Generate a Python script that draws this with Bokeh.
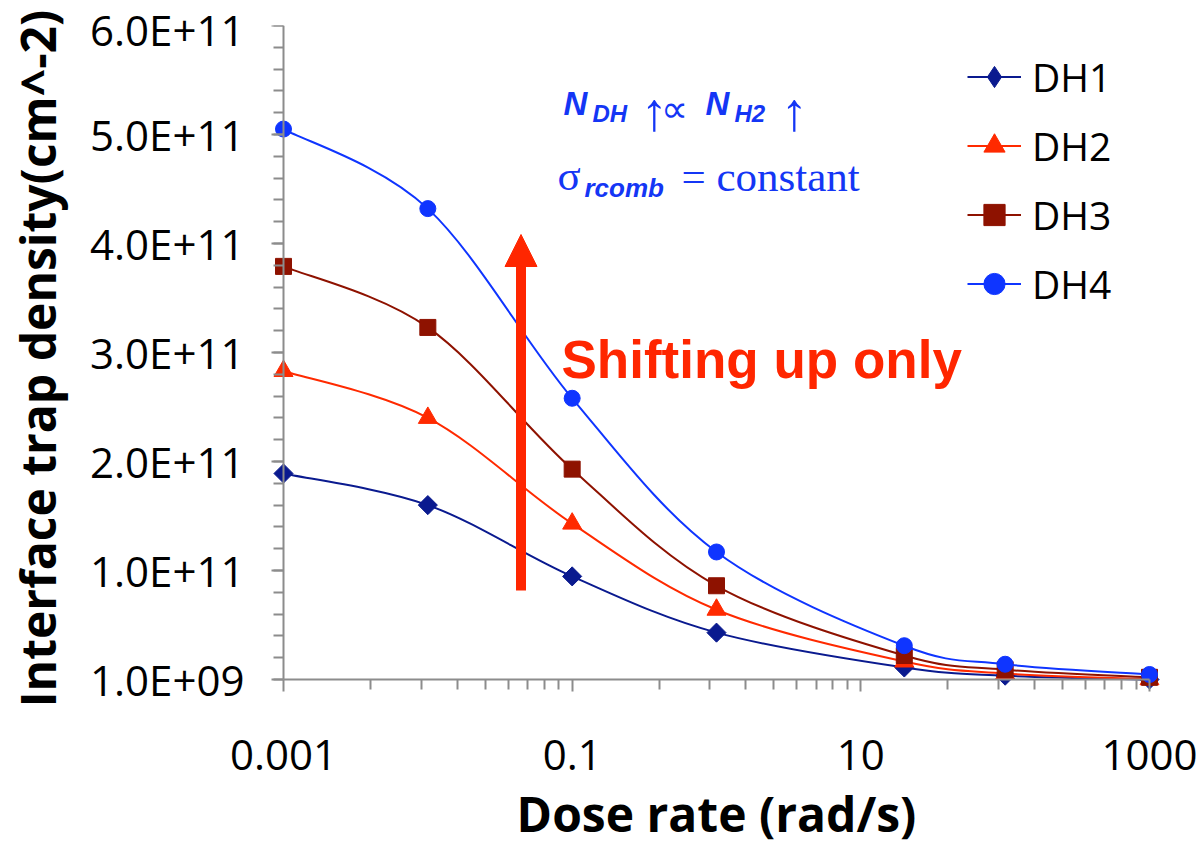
import math
from bokeh.plotting import figure
from bokeh.models import (FixedTicker, CustomJSTickFormatter, Legend, LegendItem, LinearAxis, LogAxis,
                          Arrow, NormalHead, Label, ColumnDataSource, Range1d)
from bokeh.embed import file_html
from bokeh.resources import INLINE

# ---------------- data ----------------
dose_rate = [0.001, 0.01, 0.1, 1, 20, 100, 1000]
dh1 = [1.90e11, 1.61e11, 0.956e11, 0.44e11, 1.2e10, 4.5e9, 1.0e9]
dh2 = [2.84e11, 2.41e11, 1.44e11, 0.65e11, 1.75e10, 6.5e9, 1.2e9]
dh3 = [3.80e11, 3.24e11, 1.94e11, 0.87e11, 2.3e10, 1.0e10, 3.0e9]
dh4 = [5.06e11, 4.33e11, 2.59e11, 1.18e11, 3.2e10, 1.5e10, 5.6e9]

series_names = ["DH1", "DH2", "DH3", "DH4"]
series_values = [dh1, dh2, dh3, dh4]
series_colors = ["#0A1A8F", "#FF2A00", "#8E1200", "#0F35FF"]

x_tick_values = [0.001, 0.1, 10, 1000]
x_tick_labels = ["0.001", "0.1", "10", "1000"]
y_tick_values = [1e9, 1.01e11, 2.01e11, 3.01e11, 4.01e11, 5.01e11, 6.01e11]
y_tick_labels = ["1.0E+09", "1.0E+11", "2.0E+11", "3.0E+11", "4.0E+11", "5.0E+11", "6.0E+11"]

X_MIN, X_MAX = 0.001, 1000
Y_MIN, Y_MAX = 1e9, 6.01e11

PX_DEC = 144.333                 # pixels per decade on x
PX_Y = 654.0 / (Y_MAX - Y_MIN)   # pixels per unit on y
PAD = 12                         # extra room so markers on the axes are not clipped

p = figure(width=1200, height=848, x_axis_type="log",
           x_range=Range1d(X_MIN * 10 ** (-PAD / PX_DEC), X_MAX * 10 ** (PAD / PX_DEC)),
           y_range=Range1d(Y_MIN - PAD / PX_Y, Y_MAX),
           output_backend="svg", toolbar_location=None,
           min_border_left=283 - PAD, min_border_right=51 - PAD,
           min_border_top=25, min_border_bottom=169 - PAD)
p.outline_line_color = None
p.xgrid.visible = False
p.ygrid.visible = False
p.background_fill_color = "white"
p.border_fill_color = "white"

AX = "#8C8C8C"
x_minor = [m * k * k for m in (0.001, 0.1, 10) for k in range(2, 10)]
y_minor = [1e9 + k * 2e10 for k in range(31)]

fmt_code = """
for (let i = 0; i < tvals.length; i++) {
  if (Math.abs(tvals[i] - tick) <= 1e-6 * Math.abs(tvals[i])) { return tlabels[i]; }
}
return "";
"""

# axis lines + ticks, drawn at the data origin (0.001, 1e9)
xa = p.xaxis[0]
ya = p.yaxis[0]
ya.fixed_location = X_MIN
xa.fixed_location = Y_MIN
xa.bounds = (X_MIN, X_MAX)
ya.bounds = (Y_MIN, Y_MAX)
xa.ticker = FixedTicker(ticks=x_tick_values, minor_ticks=x_minor)
ya.ticker = FixedTicker(ticks=y_tick_values, minor_ticks=y_minor)
for ax in (xa, ya):
    ax.axis_line_color = AX
    ax.axis_line_width = 2
    ax.major_tick_line_color = AX
    ax.major_tick_line_width = 2
    ax.minor_tick_line_color = AX
    ax.minor_tick_line_width = 2
    ax.major_tick_in = 0
    ax.minor_tick_in = 0
    ax.major_label_text_alpha = 0
xa.major_tick_out = 15
xa.minor_tick_out = 10
ya.major_tick_out = 16
ya.minor_tick_out = 10

# label-only axes in the side panels
ylab = LinearAxis(ticker=FixedTicker(ticks=y_tick_values),
                  formatter=CustomJSTickFormatter(args=dict(tvals=y_tick_values, tlabels=y_tick_labels), code=fmt_code))
xlab = LogAxis(ticker=FixedTicker(ticks=x_tick_values),
               formatter=CustomJSTickFormatter(args=dict(tvals=x_tick_values, tlabels=x_tick_labels), code=fmt_code))
for ax in (xlab, ylab):
    ax.axis_line_color = None
    ax.major_tick_line_color = None
    ax.minor_tick_line_color = None
    ax.major_tick_in = 0
    ax.minor_tick_in = 0
    ax.major_tick_out = 0
    ax.minor_tick_out = 0
    ax.major_label_text_font = "Open Sans"
    ax.major_label_text_font_size = "42px"
    ax.major_label_text_color = "black"
    ax.axis_label_text_font = "Open Sans"
    ax.axis_label_text_font_size = "48px"
    ax.axis_label_text_font_style = "bold"
    ax.axis_label_text_color = "black"
ylab.major_label_standoff = 27
xlab.major_label_standoff = 48
ylab.axis_label = "Interface trap density(cm^-2)"
xlab.axis_label = "Dose rate (rad/s)"
ylab.axis_label_standoff = 17
xlab.axis_label_standoff = 8
p.add_layout(ylab, "left")
p.add_layout(xlab, "below")


# ---------------- smoothed curves (Bezier through the data points) ----------------
def bezier_source(xs, ys):
    lx = [math.log10(v) for v in xs]
    n = len(xs)
    d = dict(x0=[], y0=[], x1=[], y1=[], cx0=[], cy0=[], cx1=[], cy1=[])
    for i in range(n - 1):
        i0 = max(i - 1, 0)
        i3 = min(i + 2, n - 1)
        c0x = lx[i] + (lx[i + 1] - lx[i0]) / 6.0
        c0y = ys[i] + (ys[i + 1] - ys[i0]) / 6.0
        c1x = lx[i + 1] - (lx[i3] - lx[i]) / 6.0
        c1y = ys[i + 1] - (ys[i3] - ys[i]) / 6.0
        d["x0"].append(xs[i]); d["y0"].append(ys[i])
        d["x1"].append(xs[i + 1]); d["y1"].append(ys[i + 1])
        d["cx0"].append(10 ** c0x); d["cy0"].append(c0y)
        d["cx1"].append(10 ** c1x); d["cy1"].append(c1y)
    return ColumnDataSource(d)


markers = [("square", math.pi / 4, 13.5), ("triangle", 0.0, 19), ("square", 0.0, 16), ("circle", 0.0, 16)]
legend_markers = ["diamond", "triangle", "square", "circle"]
items = []
for name, vals, col, (mk, ang, sz), lmk in zip(series_names, series_values, series_colors,
                                              markers, legend_markers):
    br = p.bezier(x0="x0", y0="y0", x1="x1", y1="y1", cx0="cx0", cy0="cy0", cx1="cx1", cy1="cy1",
                  source=bezier_source(dose_rate, vals), line_color=col, line_width=2)
    sr = p.scatter(x=dose_rate, y=vals, marker=mk, angle=ang, size=sz,
                   fill_color=col, line_color=col, line_width=1)
    if lmk != mk or ang != 0.0:
        lr = p.scatter(x=dose_rate, y=vals, marker=lmk, size=sz,
                       fill_color=col, line_color=col, line_width=1, visible=False)
        items.append(LegendItem(label=name, renderers=[br, lr]))
    else:
        items.append(LegendItem(label=name, renderers=[br, sr]))

legend = Legend(items=items, location=(696, 381), orientation="vertical",
                glyph_width=54, glyph_height=53, label_height=53, label_standoff=11,
                spacing=16, padding=0, margin=0,
                border_line_color=None, background_fill_alpha=0,
                label_text_font="Open Sans", label_text_font_size="39px", label_text_color="black")
p.add_layout(legend)


# ---------------- annotations ----------------
def dx(px):
    return 10 ** (-3 + (px - 283) / PX_DEC)


def dy(py):
    return Y_MIN + (679 - py) / PX_Y


RED = "#FF2600"
BLUE = "#1436F5"
p.add_layout(Arrow(end=NormalHead(size=32, fill_color=RED, line_color=RED, line_width=1),
                   x_start=dx(520.5), y_start=dy(590), x_end=dx(520.5), y_end=dy(234),
                   line_color=RED, line_width=10))

p.add_layout(Label(x=dx(561), y=dy(359), text="Shifting up only", text_font="Liberation Sans",
                   text_font_style="bold", text_font_size="53px", text_color=RED,
                   text_baseline="alphabetic", text_align="left"))

pieces = [
    ("N", 563, 103, "Liberation Sans", "bold italic", "33px", "left"),
    ("DH", 592, 113, "Liberation Sans", "bold italic", "24px", "left"),
    ("\u2191", 654, 110, "Liberation Sans", "normal", "54px", "center"),
    ("\u221d", 674, 108, "DejaVu Sans", "normal", "38px", "center"),
    ("N", 705, 103, "Liberation Sans", "bold italic", "33px", "left"),
    ("H2", 734, 113, "Liberation Sans", "bold italic", "24px", "left"),
    ("\u2191", 794, 110, "Liberation Sans", "normal", "54px", "center"),
    ("\u03c3", 557, 175, "Liberation Serif", "normal", "43px", "left"),
    ("rcomb", 584, 187, "Liberation Sans", "bold italic", "26px", "left"),
    ("= constant", 681, 176, "Liberation Serif", "normal", "43px", "left"),
]
for txt, px_, py_, font, style, size, align in pieces:
    p.add_layout(Label(x=dx(px_), y=dy(py_), text=txt, text_font=font, text_font_style=style,
                       text_font_size=size, text_color=BLUE,
                       text_baseline="alphabetic", text_align=align))

open("out.html", "w").write(file_html(p, INLINE))
